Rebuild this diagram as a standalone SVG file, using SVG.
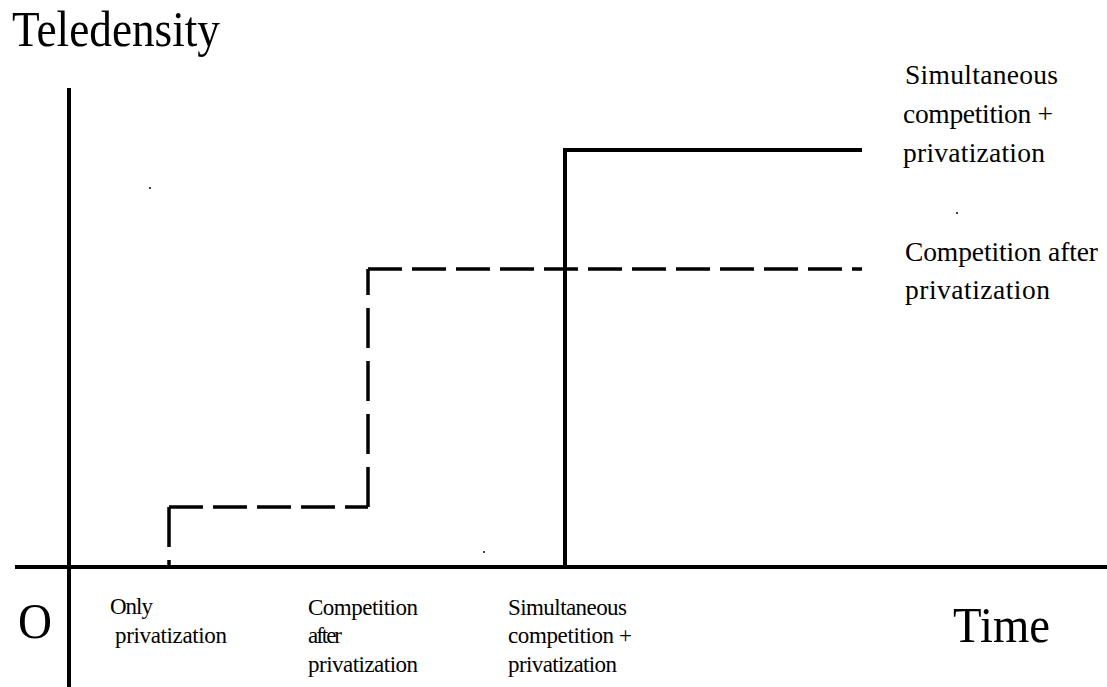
<svg xmlns="http://www.w3.org/2000/svg" width="1107" height="687" viewBox="0 0 1107 687">
<style>
.big{font-family:"Liberation Serif","Times New Roman",serif;font-size:51px;fill:#000}
.mid{font-family:"Liberation Serif","Times New Roman",serif;font-size:27.5px;fill:#000}
.sm{font-family:"Liberation Serif","Times New Roman",serif;font-size:23px;fill:#000}
.axis{stroke:#000;stroke-width:4;fill:none}
.solid{stroke:#000;stroke-width:4;fill:none;stroke-linejoin:miter}
.dh{stroke:#000;stroke-width:3.5;fill:none;stroke-dasharray:34 10}
.dv{stroke:#000;stroke-width:3.5;fill:none;stroke-dasharray:40 13}
</style>
<rect width="1107" height="687" fill="#fff"/>
<g id="axes">
<line class="axis" x1="69" y1="88" x2="69" y2="687"/>
<line class="axis" x1="15" y1="567" x2="1107" y2="567"/>
</g>
<g id="axis-labels">
<text class="big" x="12" y="46" textLength="208" lengthAdjust="spacingAndGlyphs">Teledensity</text>
<text class="big" x="18" y="638" textLength="34" lengthAdjust="spacingAndGlyphs">O</text>
<text class="big" x="953" y="642" textLength="97" lengthAdjust="spacingAndGlyphs">Time</text>
</g>
<g id="connectors">
<path class="solid" d="M565,567 L565,150 L862,150"/>
<path class="dv" d="M169,507 L169,567"/>
<path class="dh" d="M169,507 L368,507"/>
<path class="dv" d="M368,507 L368,269"/>
<path class="dh" d="M368,269 L862,269"/>
</g>
<g id="label-simultaneous-right">
<text class="mid" x="905" y="84" textLength="153" lengthAdjust="spacing">Simultaneous</text>
<text class="mid" x="903" y="123" textLength="150" lengthAdjust="spacing">competition +</text>
<text class="mid" x="903" y="162" textLength="142" lengthAdjust="spacing">privatization</text>
</g>
<g id="label-competition-right">
<text class="mid" x="905" y="261" textLength="193" lengthAdjust="spacing">Competition after</text>
<text class="mid" x="905" y="299" textLength="145" lengthAdjust="spacing">privatization</text>
</g>
<g id="label-only">
<text class="sm" x="110" y="614" textLength="43" lengthAdjust="spacing">Only</text>
<text class="sm" x="115" y="643" textLength="112" lengthAdjust="spacing">privatization</text>
</g>
<g id="label-competition-bottom">
<text class="sm" x="308" y="615" textLength="110" lengthAdjust="spacing">Competition</text>
<text class="sm" x="308" y="643" textLength="34" lengthAdjust="spacing">after</text>
<text class="sm" x="308" y="672" textLength="110" lengthAdjust="spacing">privatization</text>
</g>
<g id="label-simultaneous-bottom">
<text class="sm" x="508" y="615" textLength="119" lengthAdjust="spacing">Simultaneous</text>
<text class="sm" x="508" y="643" textLength="124" lengthAdjust="spacing">competition +</text>
<text class="sm" x="508" y="672" textLength="109" lengthAdjust="spacing">privatization</text>
</g>
<g id="specks" fill="#000">
<circle cx="150" cy="188" r="1"/>
<circle cx="957" cy="213" r="1"/>
<circle cx="484" cy="552" r="1"/>
</g>
</svg>
